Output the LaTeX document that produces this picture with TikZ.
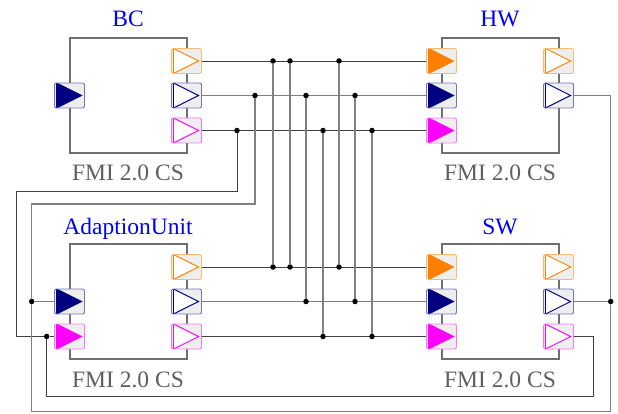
\documentclass[tikz,border=0pt]{standalone}
\usepackage{fontspec}
\setmainfont{Liberation Serif}
\definecolor{portgray}{HTML}{EEEEEE}
\definecolor{boxgray}{HTML}{707070}
\definecolor{sigorange}{HTML}{FF8000}
\definecolor{signavy}{HTML}{000080}
\definecolor{sigmag}{HTML}{FF00FF}
\definecolor{titleblue}{HTML}{0000FF}
\definecolor{labgray}{HTML}{5F5F5F}
\definecolor{wiredark}{HTML}{404040}
\definecolor{wirelight}{HTML}{808080}

\tikzset{
 block/.style={draw=boxgray, line width=2, minimum width=117, minimum height=115, inner sep=0},
 port/.style={draw=#1!55!white, fill=portgray, rounded corners=2, line width=0.9,
   minimum width=30, minimum height=25, inner sep=0},
 outport/.style={port=#1, path picture={
   \draw[#1, sharp corners, line width=0.9, fill=white]
     ([xshift=2]path picture bounding box.north west) -- ([xshift=-3]path picture bounding box.east)
     -- ([xshift=2]path picture bounding box.south west) -- cycle;}},
 inport/.style={port=#1, path picture={
   \draw[#1, sharp corners, line width=0.9, fill=#1]
     ([xshift=2]path picture bounding box.north west) -- ([xshift=-3]path picture bounding box.east)
     -- ([xshift=2]path picture bounding box.south west) -- cycle;}},
 title/.style={text=titleblue, font=\fontsize{23.5}{26}\selectfont, anchor=base},
 fmilabel/.style={text=labgray, font=\fontsize{23.5}{26}\selectfont, anchor=base},
 dot/.style={circle, fill=black, inner sep=0, minimum size=5.5},
 wire/.style={draw=wiredark, line width=0.9},
 navywire/.style={draw=wirelight, line width=1.3}
}

% ports: name, x, y, colour
\newcommand{\inp}[4]{
\node[inport=#4] (#1) at (#2,#3) {};}
\newcommand{\outp}[4]{
\node[outport=#4] (#1) at (#2,#3) {};}

\begin{document}
\begin{tikzpicture}[x=1pt,y=-1pt]
\useasboundingbox (0,0) rectangle (618,414);

% blocks
\node[block] (bc) at (128,95.5) {};
\node[block] (hw) at (500,95.5) {};
\node[block] (au) at (128,301.5) {};
\node[block] (sw) at (500,301.5) {};

\node[title] (bct) at ([yshift=10]bc.north) {BC};
\node[title] (hwt) at ([yshift=10]hw.north) {HW};
\node[title] (aut) at ([yshift=9]au.north) {AdaptionUnit};
\node[title] (swt) at ([yshift=9]sw.north) {SW};

\node[fmilabel] (bcl) at ([yshift=-27]bc.south) {FMI 2.0 CS};
\node[fmilabel] (hwl) at ([yshift=-27]hw.south) {FMI 2.0 CS};
\node[fmilabel] (aul) at ([yshift=-27]au.south) {FMI 2.0 CS};
\node[fmilabel] (swl) at ([yshift=-27]sw.south) {FMI 2.0 CS};

% BC
\inp{bcI}{69.5}{95.5}{signavy}
\outp{bcO1}{186.5}{61}{sigorange}
\outp{bcO2}{186.5}{95.5}{signavy}
\outp{bcO3}{186.5}{130.5}{sigmag}
% HW
\inp{hwI1}{441.5}{61}{sigorange}
\inp{hwI2}{441.5}{95.5}{signavy}
\inp{hwI3}{441.5}{130.5}{sigmag}
\outp{hwO1}{558.5}{61}{sigorange}
\outp{hwO2}{558.5}{95.5}{signavy}
% AdaptionUnit
\inp{auI2}{69.5}{301.5}{signavy}
\inp{auI3}{69.5}{336.5}{sigmag}
\outp{auO1}{186.5}{267}{sigorange}
\outp{auO2}{186.5}{301.5}{signavy}
\outp{auO3}{186.5}{336.5}{sigmag}
% SW
\inp{swI1}{441.5}{267}{sigorange}
\inp{swI2}{441.5}{301.5}{signavy}
\inp{swI3}{441.5}{336.5}{sigmag}
\outp{swO1}{558.5}{267}{sigorange}
\outp{swO2}{558.5}{301.5}{signavy}
\outp{swO3}{558.5}{336.5}{sigmag}

% buses
\draw[wire] (bcO1) -- (hwI1);
\draw[navywire] (bcO2) -- (hwI2);
\draw[wire] (bcO3) -- (hwI3);
\draw[wire] (auO1) -- (swI1);
\draw[navywire] (auO2) -- (swI2);
\draw[wire] (auO3) -- (swI3);

\foreach \x/\n in {273/a,290/b,339/c}{
  \node[dot] (o\n1) at (\x,61) {};
  \node[dot] (o\n2) at (\x,267) {};
  \draw[navywire] (o\n1) -- (o\n2);
}
\foreach \x/\n in {306/a,355/b}{
  \node[dot] (n\n1) at (\x,95.5) {};
  \node[dot] (n\n2) at (\x,301.5) {};
  \draw[navywire] (n\n1) -- (n\n2);
}
\foreach \x/\n in {323/a,372/b}{
  \node[dot] (m\n1) at (\x,130.5) {};
  \node[dot] (m\n2) at (\x,336.5) {};
  \draw[navywire] (m\n1) -- (m\n2);
}

% feedback loops
\node[dot] (mfb) at (237,130.5) {};
\node[dot] (mau) at (46.7,336.5) {};
\draw[wire] (mfb) |- (16,191) |- (mau);
\draw[wire] (mau) -- (auI3);
\draw[wire] (mau) |- (593,396) |- (swO3);

\node[dot] (nfb) at (255,95.5) {};
\node[dot] (nau) at (31.7,301.5) {};
\node[dot] (nsw) at (610.7,301.5) {};
\draw[navywire] (nfb) |- (31.7,204) -- (nau);
\draw[navywire] (nau) |- (610.7,411.7) -- (nsw);
\draw[navywire] (nsw) |- (hwO2);
\draw[navywire] (nau) -- (auI2);
\draw[navywire] (nsw) -- (swO2);
\end{tikzpicture}
\end{document}
